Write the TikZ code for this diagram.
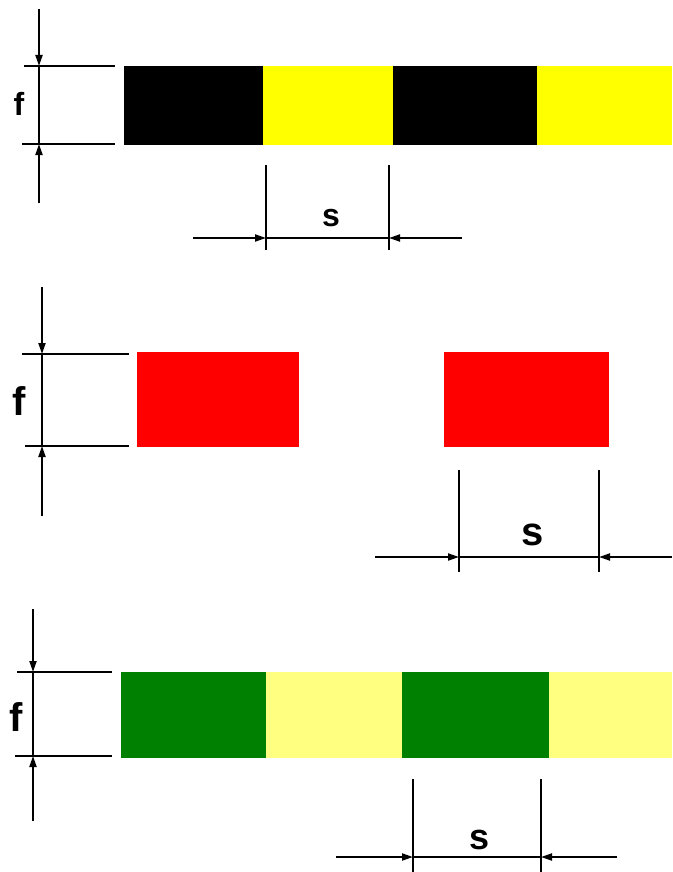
\documentclass[tikz,border=0pt]{standalone}
\usepackage{fontspec}
\setmainfont{Liberation Sans}
\usetikzlibrary{arrows.meta}
\definecolor{lightyel}{RGB}{255,255,128}
\definecolor{darkgrn}{RGB}{0,128,0}
\definecolor{pureyel}{RGB}{255,255,0}
\tikzstyle{dimline} = [draw,line width=2pt,-]
\tikzstyle{dimarrow} = [draw,line width=2pt,-{Triangle[length=11pt,width=7pt]}]
\tikzstyle{dimlabel} = [font=\bfseries\fontsize{32}{32}\selectfont,inner sep=0pt]
\tikzstyle{biglabel} = [font=\bfseries\fontsize{40}{40}\selectfont,inner sep=0pt]

\begin{document}
\begin{tikzpicture}[x=1pt,y=-1pt]
  \useasboundingbox (0,0) rectangle (672,872);

  % First the coloured bands
  \foreach \xa/\xb/\ya/\yb/\col in {124/263/66/145/black, 263/393/66/145/pureyel, 393/537/66/145/black, 537/672/66/145/pureyel,
      137/299/352/447/red, 444/609/352/447/red,
      121/266/672/758/darkgrn, 266/402/672/758/lightyel, 402/549/672/758/darkgrn, 549/672/672/758/lightyel}
    \fill[\col] (\xa,\ya) rectangle (\xb,\yb);

  % Height dimensions f: \x axis, top, bottom, extension lines, ends
  \foreach \name/\x/\ya/\yb/\ta/\tb/\ea/\eb/\ex in {one/39/66/144/9/203/24/22/115, two/42/354/446/287/516/22/25/129, three/33/672/756/609/821/17/15/112} {
    \coordinate (\name-top) at (\x,\ya);
    \coordinate (\name-bot) at (\x,\yb);
    \coordinate (\name-tt) at (\x,\ta);
    \coordinate (\name-bb) at (\x,\tb);
    \coordinate (\name-e1) at (\ea,\ya);
    \coordinate (\name-e2) at (\ex,\ya);
    \coordinate (\name-e3) at (\eb,\yb);
    \coordinate (\name-e4) at (\ex,\yb);
    \path[dimline] (\name-e1) -- (\name-e2);
    \path[dimline] (\name-e3) -- (\name-e4);
    \path[dimline] (\name-top) -- (\name-bot);
    \path[dimarrow] (\name-tt) -- (\name-top);
    \path[dimarrow] (\name-bb) -- (\name-bot);
  }
  \node[dimlabel] (f1) at (19,104) {f};
  \node[biglabel] (f2) at (19,401) {f};
  \node[biglabel] (f3) at (16,717) {f};

  % Spacing dimensions s
  \foreach \name/\xa/\xb/\ya/\yb/\y/\la/\lb in {one/266/389/165/250/238/193/462, two/459/599/470/572/557/375/672, three/413/541/779/872/857/336/617} {
    \coordinate (\name-sa) at (\xa,\y);
    \coordinate (\name-sb) at (\xb,\y);
    \coordinate (\name-va) at (\xa,\ya);
    \coordinate (\name-wa) at (\xa,\yb);
    \coordinate (\name-vb) at (\xb,\ya);
    \coordinate (\name-wb) at (\xb,\yb);
    \coordinate (\name-la) at (\la,\y);
    \coordinate (\name-lb) at (\lb,\y);
    \path[dimline] (\name-va) -- (\name-wa);
    \path[dimline] (\name-vb) -- (\name-wb);
    \path[dimline] (\name-sa) -- (\name-sb);
    \path[dimarrow] (\name-la) -- (\name-sa);
    \path[dimarrow] (\name-lb) -- (\name-sb);
  }
  \node[dimlabel] (s1) at (331,218) {s};
  \node[biglabel] (s2) at (533,535) {s};
  \node[biglabel,font=\bfseries\fontsize{36}{36}\selectfont] (s3) at (480,840) {s};
\end{tikzpicture}
\end{document}
